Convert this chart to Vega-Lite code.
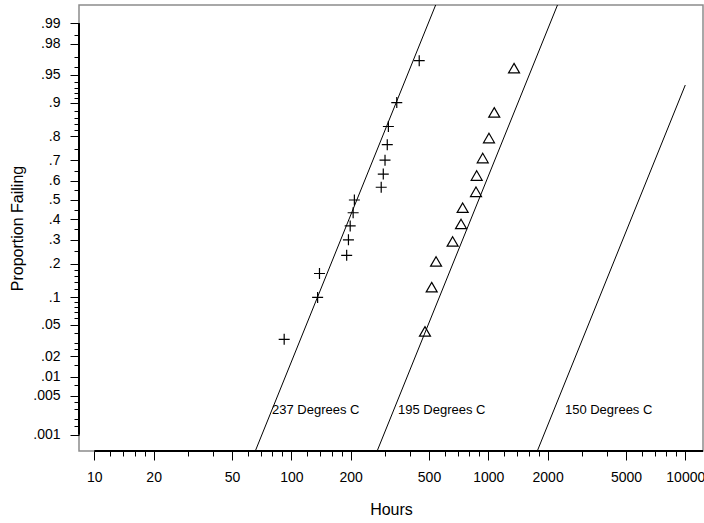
{
  "$schema": "https://vega.github.io/schema/vega-lite/v6.json",
  "width": 624,
  "height": 446,
  "autosize": {"type": "none"},
  "padding": {"left": 79, "top": 5, "right": 1, "bottom": 72},
  "background": "white",
  "config": {
    "view": {"stroke": "#8c8c8c", "strokeWidth": 1.5},
    "font": "Liberation Sans"
  },
  "datasets": {
    "fits": [
      {"series": "237", "hours": 63.4, "z": -3.4},
      {"series": "237", "hours": 567, "z": 2.7},
      {"series": "195", "hours": 263.4, "z": -3.4},
      {"series": "195", "hours": 2356, "z": 2.7},
      {"series": "150", "hours": 1712.6, "z": -3.4},
      {"series": "150", "hours": 10000, "z": 1.513}
    ],
    "t237": [
      {"hours": 92, "p": 0.0333, "z": -1.8339},
      {"hours": 136, "p": 0.1, "z": -1.2816},
      {"hours": 139, "p": 0.1667, "z": -0.9674},
      {"hours": 191, "p": 0.2333, "z": -0.7279},
      {"hours": 195, "p": 0.3, "z": -0.5244},
      {"hours": 199, "p": 0.3667, "z": -0.3407},
      {"hours": 206, "p": 0.4333, "z": -0.1679},
      {"hours": 209, "p": 0.5, "z": 0},
      {"hours": 286, "p": 0.5667, "z": 0.1679},
      {"hours": 293, "p": 0.6333, "z": 0.3407},
      {"hours": 299, "p": 0.7, "z": 0.5244},
      {"hours": 307, "p": 0.7667, "z": 0.7279},
      {"hours": 311, "p": 0.8333, "z": 0.9674},
      {"hours": 343, "p": 0.9, "z": 1.2816},
      {"hours": 446, "p": 0.9667, "z": 1.8339}
    ],
    "t195": [
      {"hours": 477, "p": 0.0417, "z": -1.7317},
      {"hours": 516, "p": 0.125, "z": -1.1503},
      {"hours": 543, "p": 0.2083, "z": -0.8122},
      {"hours": 659, "p": 0.2917, "z": -0.5485},
      {"hours": 727, "p": 0.375, "z": -0.3186},
      {"hours": 741, "p": 0.4583, "z": -0.1046},
      {"hours": 866, "p": 0.5417, "z": 0.1046},
      {"hours": 873, "p": 0.625, "z": 0.3186},
      {"hours": 937, "p": 0.7083, "z": 0.5485},
      {"hours": 1008, "p": 0.7917, "z": 0.8122},
      {"hours": 1072, "p": 0.875, "z": 1.1503},
      {"hours": 1351, "p": 0.9583, "z": 1.7317}
    ],
    "labels": [
      {"label": "237 Degrees C", "hours": 79.8, "z": -2.763},
      {"label": "195 Degrees C", "hours": 348, "z": -2.763},
      {"label": "150 Degrees C", "hours": 2449, "z": -2.763}
    ],
    "axislines": [
      {"hours": 8.36, "hours2": 8.36, "z": -3.0902, "z2": 2.3263},
      {"hours": 10, "hours2": 12300, "z": -3.303, "z2": -3.303}
    ]
  },
  "layer": [
    {
      "data": {"name": "fits"},
      "mark": {"type": "line", "color": "black", "strokeWidth": 1, "clip": true},
      "encoding": {
        "x": {
          "field": "hours", "type": "quantitative",
          "scale": {"type": "log", "domain": [8.36, 12300], "nice": false},
          "axis": {
            "title": "Hours",
            "tickCount": 1000,
            "values": [10,12,14,16,18,20,30,40,50,60,70,80,90,100,120,140,160,180,200,300,400,500,600,700,800,900,1000,1200,1400,1600,1800,2000,3000,4000,5000,6000,7000,8000,9000,10000],
            "labelExpr": "indexof([10,20,50,100,200,500,1000,2000,5000,10000], datum.value) >= 0 ? datum.value + '' : ''",
            "tickSize": {"condition": {"test": "indexof([10,20,50,100,200,500,1000,2000,5000,10000], datum.value) >= 0", "value": 9}, "value": 5},
            "domain": false,
            "grid": false,
            "tickColor": "black",
            "tickWidth": 1,
            "labelColor": "black",
            "labelFont": "Liberation Sans",
            "labelFontSize": 14,
            "labelPadding": 10,
            "labelOverlap": false,
            "labelFlush": false,
            "titleColor": "black",
            "titleFont": "Liberation Sans",
            "titleFontSize": 16,
            "titleFontWeight": "normal",
            "titlePadding": 17
          }
        },
        "y": {
          "field": "z", "type": "quantitative",
          "scale": {"domain": [-3.303, 2.566], "nice": false, "zero": false},
          "axis": {
            "title": "Proportion Failing",
            "tickCount": 1000,
            "values": [-3.0902,-2.9677,-2.8782,-2.7478,-2.6521,-2.5758,-2.4324,-2.3263,-2.1701,-2.0537,-1.96,-1.8808,-1.7507,-1.6449,-1.5548,-1.4758,-1.4051,-1.3408,-1.2816,-1.175,-1.0803,-0.9945,-0.9154,-0.8416,-0.6745,-0.5244,-0.3853,-0.2533,-0.1257,0,0.1257,0.2533,0.3853,0.5244,0.6745,0.8416,0.9154,0.9945,1.0803,1.175,1.2816,1.3408,1.4051,1.4758,1.5548,1.6449,1.7507,1.8808,2.0537,2.1701,2.3263],
            "labelExpr": "indexof([0.001,0.005,0.01,0.02,0.05,0.1,0.2,0.3,0.4,0.5,0.6,0.7,0.8,0.9,0.95,0.98,0.99], round(cumulativeNormal(datum.value)*1000)/1000) >= 0 ? replace(format(cumulativeNormal(datum.value), '.3~f'), '0.', '.') : ''",
            "tickSize": {"condition": {"test": "indexof([0.001,0.005,0.01,0.02,0.05,0.1,0.2,0.3,0.4,0.5,0.6,0.7,0.8,0.9,0.95,0.98,0.99], round(cumulativeNormal(datum.value)*1000)/1000) >= 0", "value": 9}, "value": 5},
            "domain": false,
            "grid": false,
            "tickColor": "black",
            "tickWidth": 1,
            "labelColor": "black",
            "labelFont": "Liberation Sans",
            "labelFontSize": 14,
            "labelPadding": 10,
            "labelOverlap": false,
            "labelFlush": false,
            "titleColor": "black",
            "titleFont": "Liberation Sans",
            "titleFontSize": 16,
            "titleFontWeight": "normal",
            "titlePadding": 7
          }
        },
        "detail": {"field": "series", "type": "nominal"}
      }
    },
    {
      "data": {"name": "t237"},
      "mark": {"type": "point", "shape": "M-1,0L1,0M0,-1L0,1", "filled": false, "stroke": "black", "strokeWidth": 1.2, "size": 121, "opacity": 1},
      "encoding": {
        "x": {"field": "hours", "type": "quantitative"},
        "y": {"field": "z", "type": "quantitative"}
      }
    },
    {
      "data": {"name": "t195"},
      "mark": {"type": "point", "shape": "M0,-1L1.1,0.9L-1.1,0.9Z", "filled": false, "stroke": "black", "strokeWidth": 1.2, "size": 100, "opacity": 1},
      "encoding": {
        "x": {"field": "hours", "type": "quantitative"},
        "y": {"field": "z", "type": "quantitative"}
      }
    },
    {
      "data": {"name": "labels"},
      "mark": {"type": "text", "align": "left", "baseline": "middle", "font": "Liberation Sans", "fontSize": 13, "color": "black"},
      "encoding": {
        "x": {"field": "hours", "type": "quantitative"},
        "y": {"field": "z", "type": "quantitative"},
        "text": {"field": "label", "type": "nominal"}
      }
    },
    {
      "data": {"name": "axislines"},
      "mark": {"type": "rule", "color": "black", "strokeWidth": 2},
      "encoding": {
        "x": {"field": "hours", "type": "quantitative"},
        "x2": {"field": "hours2"},
        "y": {"field": "z", "type": "quantitative"},
        "y2": {"field": "z2"}
      }
    }
  ]
}
